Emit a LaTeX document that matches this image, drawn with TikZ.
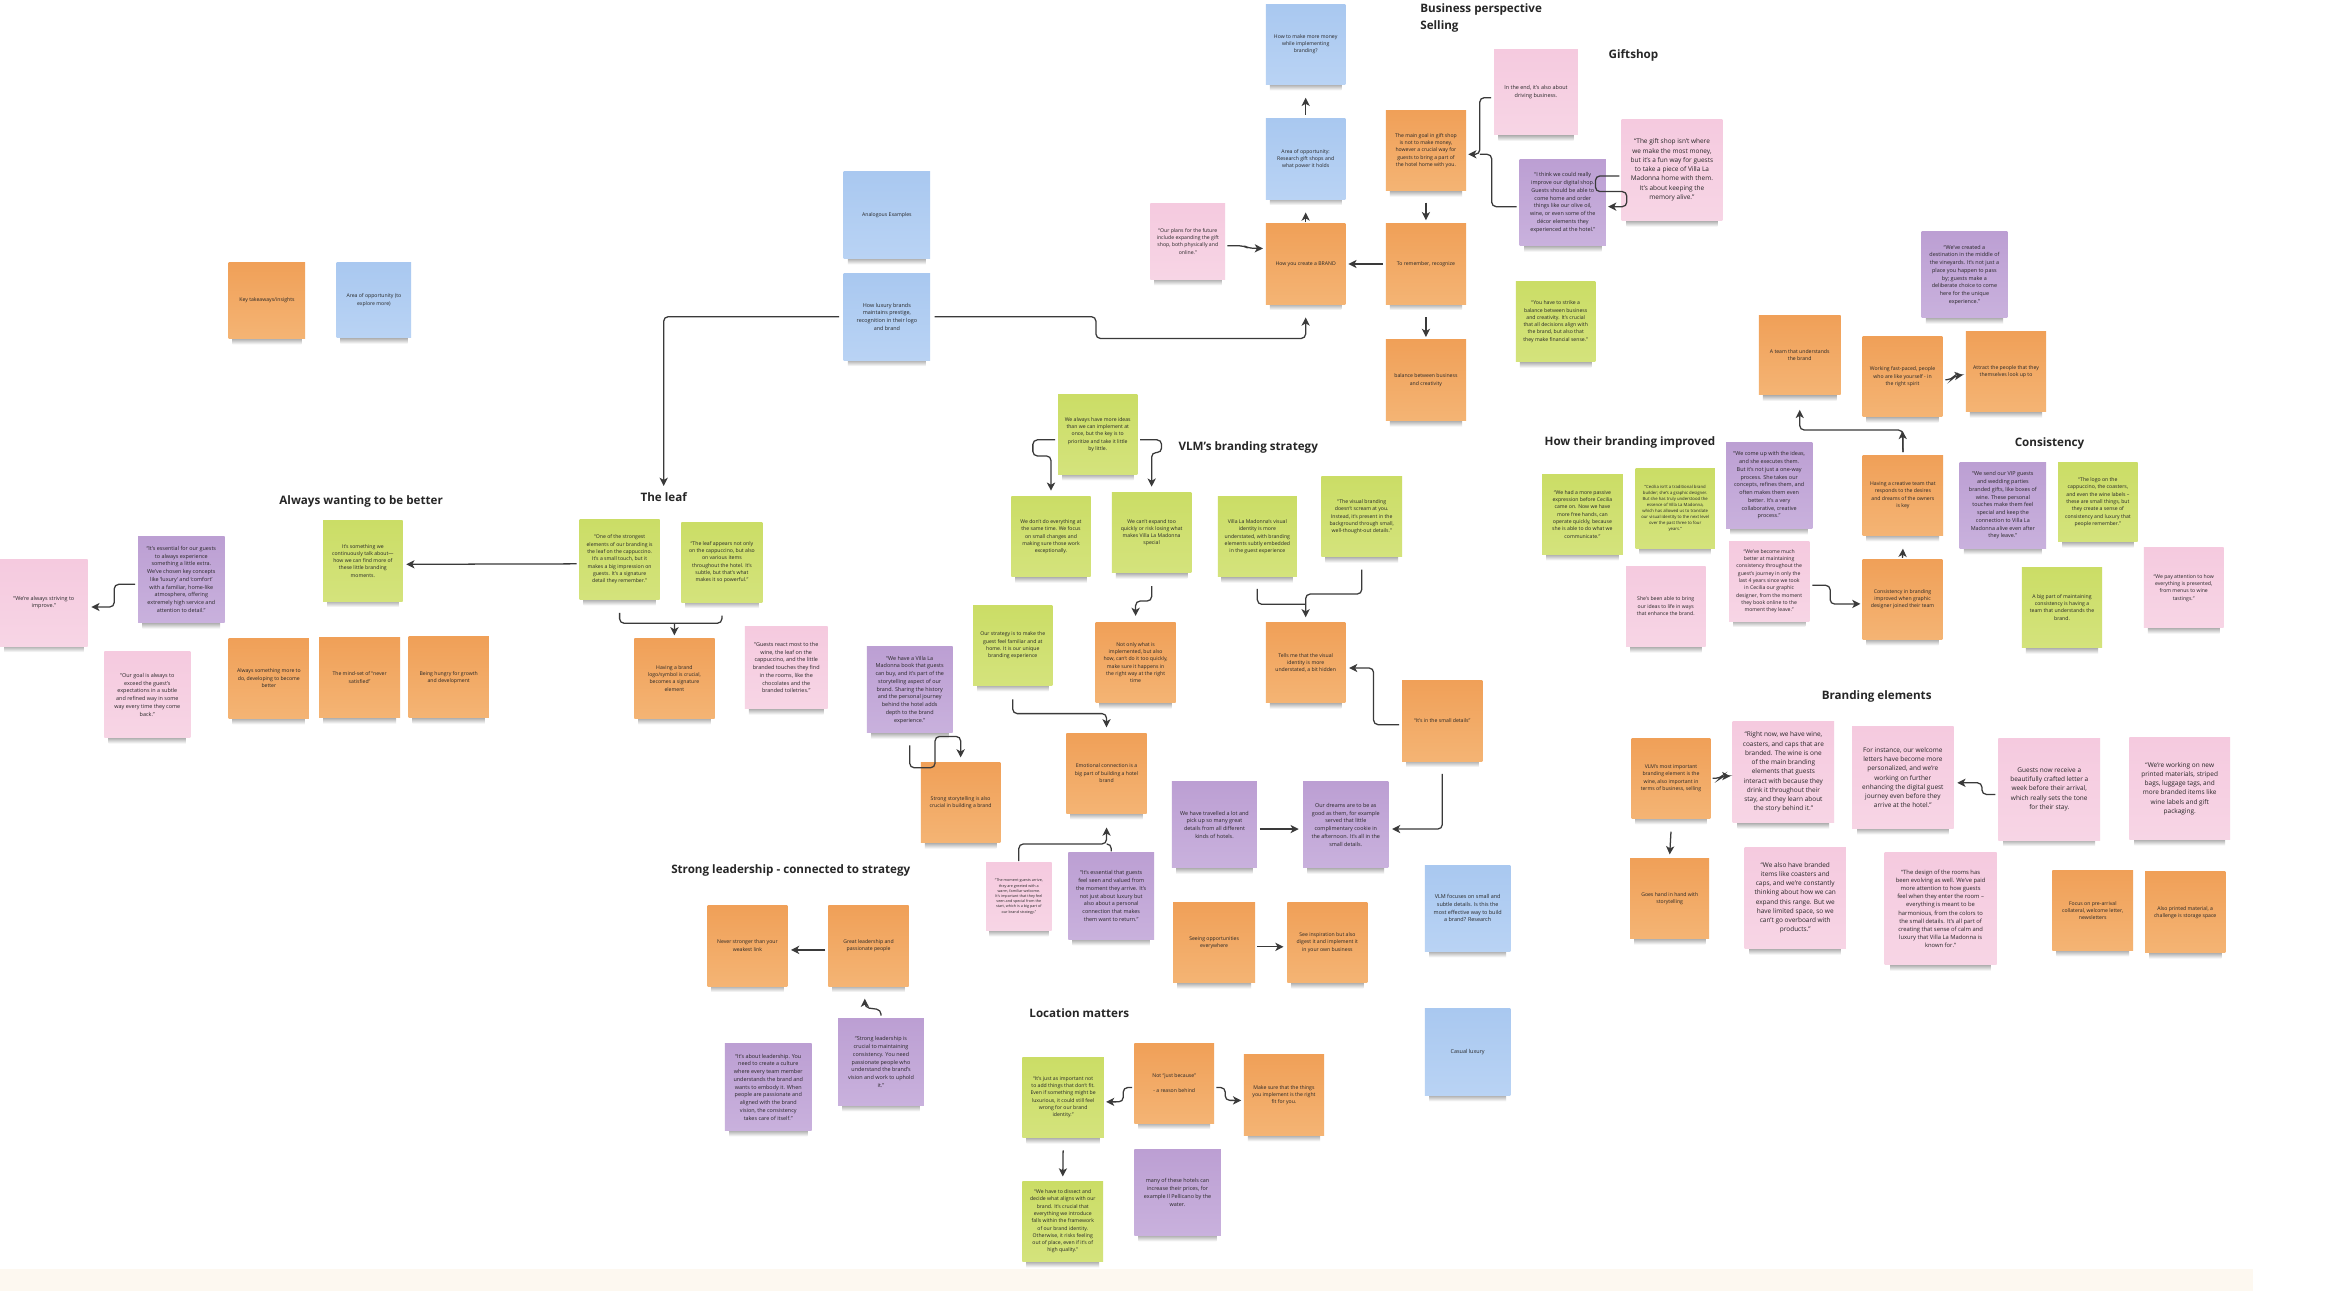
\documentclass[tikz,border=0pt]{standalone}
\usepackage{fontspec}
\setmainfont{Open Sans}
\usetikzlibrary{arrows.meta,backgrounds}

\definecolor{or1}{HTML}{F0A058}\definecolor{or2}{HTML}{F4B474}
\definecolor{bl1}{HTML}{A9C8F0}\definecolor{bl2}{HTML}{B9D3F4}
\definecolor{pk1}{HTML}{F5CADF}\definecolor{pk2}{HTML}{F7D5E5}
\definecolor{pu1}{HTML}{BC9FD3}\definecolor{pu2}{HTML}{C9B1DD}
\definecolor{gr1}{HTML}{CBDD66}\definecolor{gr2}{HTML}{D4E37C}
\definecolor{ink}{HTML}{262626}
\definecolor{linec}{HTML}{3A3A3A}
\definecolor{cream}{HTML}{FDF8F0}

\newcommand{\fsA}{\fontsize{3.45}{4.9}\selectfont}
\newcommand{\fsB}{\fontsize{3.65}{5.2}\selectfont}
\newcommand{\fsC}{\fontsize{4.35}{6.2}\selectfont}
\newcommand{\fsD}{\fontsize{3.9}{5.5}\selectfont}
\newcommand{\fsE}{\fontsize{2.85}{4.0}\selectfont}
\newcommand{\fsF}{\fontsize{2.5}{3.5}\selectfont}
\newcommand{\fsH}{\fontsize{7.8}{11.6}\selectfont\bfseries}

\tikzset{
  sticky/.style={rectangle, inner sep=0pt, outer sep=0pt, align=center, text=ink, anchor=north west},
  sor/.style={sticky, top color=or1, bottom color=or2, font=\fsA},
  sbl/.style={sticky, top color=bl1, bottom color=bl2, font=\fsA},
  spk/.style={sticky, top color=pk1, bottom color=pk2, font=\fsB},
  spu/.style={sticky, top color=pu1, bottom color=pu2, font=\fsB},
  sgr/.style={sticky, top color=gr1, bottom color=gr2, font=\fsA},
  hd/.style={anchor=west, inner sep=0pt, align=left, text=ink, font=\fsH},
  conn/.style={draw=linec, line width=0.85pt, rounded corners=3pt},
  arr/.style={conn, -{Stealth[length=5.5pt,width=5.5pt,inset=1.5pt]}}
}

% name, style, x, y (top-left), width, height, text
\newcommand{\sn}[7]{%
  \node[#2, minimum width=#5, minimum height=#6] (#1) at (#3,#4) {#7};%
  \begin{pgfonlayer}{background}%
    \shade[top color=black!45, bottom color=white] ([xshift={0.05*#5}, yshift=1.5pt]#1.south west) rectangle ([xshift={-0.05*#5}, yshift=-4pt]#1.south east);%
  \end{pgfonlayer}%
}

\begin{document}
\begin{tikzpicture}[x=1pt, y=-1pt]
\useasboundingbox (0,0) rectangle (1568,866);
\begin{pgfonlayer}{background}
  \fill[white] (0,0) rectangle (1568,866);
  \fill[cream] (0,851.3) rectangle (1568,866);
  \fill[white] (1511,851.3) rectangle (1568,866);
\end{pgfonlayer}

% ---------- headings ----------
\node[hd] (bizhd) at (952.4,12.1) {Business perspective\\Selling};
\node[hd] (gifthd) at (1078.7,37) {Giftshop};
\node[hd] (vlmhd) at (790.2,299.8) {VLM's branding strategy};
\node[hd] (improvhd) at (1035.7,296.9) {How their branding improved};
\node[hd] (conshd) at (1351,297.3) {Consistency};
\node[hd] (elemhd) at (1221.6,467.3) {Branding elements};
\node[hd] (betterhd) at (187.2,336) {Always wanting to be better};
\node[hd] (leafhd) at (429.4,333.1) {The leaf};
\node[hd] (leadhd) at (450,583.7) {Strong leadership - connected to strategy};
\node[hd] (lochd) at (690.2,679.8) {Location matters};

% ---------- notes ----------
\sn{key}{sor}{153.4}{176}{51.3}{51}{Key takeaways/insights}
\sn{areazero}{sbl}{225.7}{176}{50.1}{50.5}{Area of opportunity (to\\explore more)}
\sn{analog}{sbl}{565.8}{115.1}{58}{58.2}{Analogous Examples}
\sn{luxury}{sbl,font=\fsB}{565.8}{183.3}{58}{58.2}{How luxury brands\\maintains prestige,\\recognition in their logo\\and brand}
\sn{howmoney}{sbl}{849}{2.9}{53.3}{53.7}{How to make more money\\while implementing\\branding?}
\sn{areaop}{sbl}{849}{79.8}{53.3}{53.7}{Area of opportunity:\\Research gift shops and\\what power it holds}
\sn{brand}{sor}{849}{150.2}{53.3}{53.7}{How you create a BRAND}
\sn{maingoal}{sor}{929.4}{73.8}{53.8}{54.1}{The main goal in gift shop\\is not to make money,\\however a crucial way for\\guests to bring a part of\\the hotel home with you.}
\sn{remember}{sor}{929.4}{150.2}{53.8}{53.7}{To remember, recognize}
\sn{balance}{sor}{929.4}{228}{53.8}{54.1}{balance between business\\and creativity}
\sn{intheend}{spk}{1002}{33.5}{56.2}{57}{In the end, it's also about\\driving business.}
\sn{ithink}{spu}{1019.2}{106.9}{57.8}{57.9}{“I think we could really\\improve our digital shop.\\Guests should be able to\\come home and order\\things like our olive oil,\\wine, or even some of the\\décor elements they\\experienced at the hotel.”}
\sn{giftshop}{spk,font=\fsC}{1087.5}{80}{67.6}{68}{“The gift shop isn't where\\we make the most money,\\but it's a fun way for guests\\to take a piece of Villa La\\Madonna home with them.\\It's about keeping the\\memory alive.”}
\sn{strike}{sgr}{1016.7}{188.9}{53.3}{53.7}{“You have to strike a\\balance between business\\and creativity. It's crucial\\that all decisions align with\\the brand, but also that\\they make financial sense.”}
\sn{plans}{spk,font=\fsA}{771.5}{136.4}{50.2}{50.9}{“Our plans for the future\\include expanding the gift\\shop, both physically and\\online.”}
\sn{created}{spu}{1288.7}{155.4}{57.5}{57.7}{“We've created a\\destination in the middle of\\the vineyards. It's not just a\\place you happen to pass\\by; guests make a\\deliberate choice to come\\here for the unique\\experience.”}
\sn{team}{sor}{1179.6}{211.3}{54.8}{53.6}{A team that understands\\the brand}
\sn{working}{sor}{1249.2}{225.8}{53.5}{53.7}{Working fast-paced, people\\who are like yourself - in\\the right spirit}
\sn{attract}{sor}{1318.4}{222.4}{53.9}{53.7}{Attract the people that they\\themselves look up to}
\sn{having}{sor}{1249.2}{305.2}{54}{53.8}{Having a creative team that\\responds to the desires\\and dreams of the owners\\is key}
\sn{consbrand}{sor}{1249.2}{375.1}{53.5}{53.7}{Consistency in branding\\improved when graphic\\designer joined their team}
\sn{vip}{spu}{1314.2}{310.3}{58.1}{57.5}{“We send our VIP guests\\and wedding parties\\branded gifts, like boxes of\\wine. These personal\\touches make them feel\\special and keep the\\connection to Villa La\\Madonna alive even after\\they leave.”}
\sn{logo}{sgr}{1380.3}{310.3}{53.3}{53}{“The logo on the\\cappuccino, the coasters,\\and even the wine labels –\\these are small things, but\\they create a sense of\\consistency and luxury that\\people remember.”}
\sn{bigpart}{sgr}{1356}{380.3}{53.8}{54.1}{A big part of maintaining\\consistency is having a\\team that understands the\\brand.}
\sn{payatt}{spk,font=\fsA}{1437.8}{367.3}{53.4}{53.7}{“We pay attention to how\\everything is presented,\\from menus to wine\\tastings.”}
\sn{comeup}{spu}{1157.6}{296.9}{57.8}{57.5}{“We come up with the ideas,\\and she executes them.\\But it's not just a one-way\\process. She takes our\\concepts, refines them, and\\often makes them even\\better. It's a very\\collaborative, creative\\process.”}
\sn{becomebetter}{spk,font=\fsA}{1159.6}{362.9}{53.8}{53.6}{“We've become much\\better at maintaining\\consistency throughout the\\guest's journey in only the\\last 4 years since we took\\in Cecilia our graphic\\designer, from the moment\\they book online to the\\moment they leave.”}
\sn{rightnow}{spk,font=\fsC}{1162}{484}{68.1}{67.8}{“Right now, we have wine,\\coasters, and caps that are\\branded. The wine is one\\of the main branding\\elements that guests\\interact with because they\\drink it throughout their\\stay, and they learn about\\the story behind it.”}
\sn{forinst}{spk,font=\fsC}{1242.1}{487.4}{68.1}{68.2}{For instance, our welcome\\letters have become more\\personalized, and we're\\working on further\\enhancing the digital guest\\journey even before they\\arrive at the hotel.”}
\sn{guestsnow}{spk,font=\fsC}{1340.2}{495.2}{68.3}{68.2}{Guests now receive a\\beautifully crafted letter a\\week before their arrival,\\which really sets the tone\\for their stay.}
\sn{printed}{spk,font=\fsC}{1428.1}{494.8}{67.5}{68.2}{“We're working on new\\printed materials, striped\\bags, luggage tags, and\\more branded items like\\wine labels and gift\\packaging.}
\sn{villavis}{sgr}{816.7}{333.1}{53.1}{53.7}{Villa La Madonna's visual\\identity is more\\understated, with branding\\elements subtly embedded\\in the guest experience}
\sn{visualbr}{sgr}{886.1}{319.7}{54.3}{53.7}{“The visual branding\\doesn't scream at you.\\Instead, it's present in the\\background through small,\\well-thought-out details.”}
\sn{tellsme}{sor}{849}{417.6}{53.3}{53.7}{Tells me that the visual\\identity is more\\understated, a bit hidden}
\sn{smalldet}{sor}{940.4}{456.3}{53.8}{54.1}{“It's in the small details”}
\sn{travelled}{spu}{786}{524.3}{57}{57.7}{We have travelled a lot and\\pick up so many great\\details from all different\\kinds of hotels.}
\sn{dreams}{spu}{874}{524.3}{57.1}{57.7}{Our dreams are to be as\\good as them, for example\\served that little\\complimentary cookie in\\the afternoon. It's all in the\\small details.}
\sn{passive}{sgr}{1034.2}{318.1}{54.1}{53.7}{“We had a more passive\\expression before Cecilia\\came on. Now we have\\more free hands, can\\operate quickly, because\\she is able to do what we\\communicate.”}
\sn{cecilia}{sgr,font=\fsE}{1097}{314.3}{53}{53.5}{“Cecilia isn't a traditional brand\\builder; she's a graphic designer.\\But she has truly understood the\\essence of Villa La Madonna,\\which has allowed us to translate\\our visual identity to the next level\\over the past three to four\\years.”}
\sn{shesbeen}{spk,font=\fsA}{1090.5}{379.6}{53.3}{54.1}{She's been able to bring\\our ideas to life in ways\\that enhance the brand.}
\sn{vlmwine}{sor}{1094.3}{495.2}{52.7}{53.6}{VLM's most important\\branding element is the\\wine, also important in\\terms of business, selling}
\sn{handinhand}{sor}{1093.3}{575.8}{53}{53.7}{Goes hand in hand with\\storytelling}
\sn{wealso}{spk,font=\fsC}{1170}{568.1}{68}{68.2}{“We also have branded\\items like coasters and\\caps, and we're constantly\\thinking about how we can\\expand this range. But we\\have limited space, so we\\can't go overboard with\\products.”}
\sn{design}{spk,font=\fsD}{1263.9}{571.9}{75.1}{75.1}{“The design of the rooms has\\been evolving as well. We've paid\\more attention to how guests\\feel when they enter the room –\\everything is meant to be\\harmonious, from the colors to\\the small details. It's all part of\\creating that sense of calm and\\luxury that Villa La Madonna is\\known for.”}
\sn{focus}{sor}{1376.5}{583.7}{54.1}{53.7}{Focus on pre-arrival\\collateral, welcome letter,\\newsletters}
\sn{alsoprinted}{sor}{1438.6}{584.8}{53.8}{54.1}{Also printed material, a\\challenge is storage space}
\sn{seeing}{sor}{786.7}{605.4}{55.1}{53.6}{Seeing opportunities\\everywhere}
\sn{seeinsp}{sor}{863.3}{605.4}{53.8}{53.6}{See inspiration but also\\digest it and implement it\\in your own business}
\sn{vlmfocus}{sbl,font=\fsB}{955.6}{580.3}{57.4}{57.7}{VLM focuses on small and\\subtle details. Is this the\\most effective way to build\\a brand? Research}
\sn{casual}{sbl,font=\fsB}{955.6}{676.5}{57.4}{58.1}{Casual luxury}
\sn{notjust}{sor}{760.8}{699.5}{53.4}{53.7}{Not “just because”\\[4.9pt]- a reason behind}
\sn{makesure}{sor}{834.2}{707.3}{53.8}{54.1}{Make sure that the things\\you implement is the right\\fit for you.}
\sn{manyof}{spu}{760.8}{770.8}{57.9}{57.7}{many of these hotels can\\increase their prices, for\\example Il Pellicano by the\\water.}
\sn{never}{sor}{474.5}{607.2}{53.5}{54.1}{Never stronger than your\\weakest link}
\sn{great}{sor}{555.6}{607.2}{53.8}{54.1}{Great leadership and\\passionate people}
\sn{strongldr}{spu}{562.1}{683.2}{57.5}{58.1}{“Strong leadership is\\crucial to maintaining\\consistency. You need\\passionate people who\\understand the brand's\\vision and work to uphold\\it.”}
\sn{aboutldr}{spu}{486.2}{700}{58.1}{58.1}{“It's about leadership. You\\need to create a culture\\where every team member\\understands the brand and\\wants to embody it. When\\people are passionate and\\aligned with the brand\\vision, the consistency\\takes care of itself.”}
\sn{justasimp}{sgr}{685.7}{708.9}{54.6}{54.1}{“It's just as important not\\to add things that don't fit.\\Even if something might be\\luxurious, it could still feel\\wrong for our brand\\identity.”}
\sn{dissect}{sgr}{685.7}{792.3}{54.1}{53.7}{“We have to dissect and\\decide what aligns with our\\brand. It's crucial that\\everything we introduce\\falls within the framework\\of our brand identity.\\Otherwise, it risks feeling\\out of place, even if it's of\\high quality.”}
\sn{moment}{spk,font=\fsF}{661.4}{578.5}{43.8}{45.5}{“The moment guests arrive,\\they are greeted with a\\warm, familiar welcome.\\It's important that they feel\\seen and special from the\\start, which is a big part of\\our brand strategy.”}
\sn{seenvalued}{spu}{716.5}{571.9}{57.5}{58.1}{“It's essential that guests\\feel seen and valued from\\the moment they arrive. It's\\not just about luxury but\\also about a personal\\connection that makes\\them want to return.”}
\sn{strongest}{sgr}{388.7}{348.3}{53.7}{53.7}{“One of the strongest\\elements of our branding is\\the leaf on the cappuccino.\\It's a small touch, but it\\makes a big impression on\\guests. It's a signature\\detail they remember.”}
\sn{leafapp}{sgr}{457}{350.1}{54.3}{53.7}{“The leaf appears not only\\on the cappuccino, but also\\on various items\\throughout the hotel. It's\\subtle, but that's what\\makes it so powerful.”}
\sn{brandlogo}{sor}{425.4}{428.1}{53.8}{53.7}{Having a brand\\logo/symbol is crucial,\\becomes a signature\\element}
\sn{reactmost}{spk}{499.5}{420.3}{55.6}{55}{“Guests react most to the\\wine, the leaf on the\\cappuccino, and the little\\branded touches they find\\in the rooms, like the\\chocolates and the\\branded toiletries.”}
\sn{book}{spu}{581.3}{433.7}{57.6}{57.7}{“We have a Villa La\\Madonna book that guests\\can buy, and it's part of the\\storytelling aspect of our\\brand. Sharing the history\\and the personal journey\\behind the hotel adds\\depth to the brand\\experience.”}
\sn{storytell}{sor}{617.6}{511.5}{53.3}{53.7}{Strong storytelling is also\\crucial in building a brand}
\sn{ourstrat}{sgr}{652.7}{406}{53}{53.6}{Our strategy is to make the\\guest feel familiar and at\\home. It is our unique\\branding experience}
\sn{emotional}{sor}{715.2}{491.8}{53.8}{53.7}{Emotional connection is a\\big part of building a hotel\\brand}
\sn{dontdo}{sgr}{678.2}{333.1}{53.3}{53.7}{We don't do everything at\\the same time. We focus\\on small changes and\\making sure those work\\exceptionally.}
\sn{cantexp}{sgr}{745.7}{330.4}{53.3}{53.7}{We can't expand too\\quickly or risk losing what\\makes Villa La Madonna\\special}
\sn{notonly}{sor}{734.7}{417.6}{53.8}{53.7}{Not only what is\\implemented, but also\\how, can't do it too quickly,\\make sure it happens in\\the right way at the right\\time}
\sn{alwaysideas}{sgr}{709.7}{264.9}{53}{53.2}{We always have more ideas\\than we can implement at\\once, but the key is to\\prioritize and take it little\\by little.}
\sn{talkabout}{sgr}{216.7}{349}{53.3}{54.1}{It's something we\\continuously talk about—\\how we can find more of\\these little branding\\moments.}
\sn{essential}{spu}{92.6}{359.5}{58}{58.1}{“It's essential for our guests\\to always experience\\something a little extra.\\We've chosen key concepts\\like ‘luxury’ and ‘comfort’\\with a familiar, home-like\\atmosphere, offering\\extremely high service and\\attention to detail.”}
\sn{striving}{spk}{0}{375.1}{58.8}{58.2}{“We're always striving to\\improve.”}
\sn{goalexceed}{spk}{70}{437.1}{57.6}{57.6}{“Our goal is always to\\exceed the guest's\\expectations in a subtle\\and refined way in some\\way every time they come\\back.”}
\sn{somemore}{sor}{153.4}{428.1}{53.8}{53.7}{Always something more to\\do, developing to become\\better}
\sn{mindset}{sor}{214}{427.7}{54.3}{53.6}{The mind-set of “never\\satisfied”}
\sn{hungry}{sor}{274}{427.2}{53.8}{54.1}{Being hungry for growth\\and development}

% ---------- connectors ----------
\coordinate (leafj) at (452.3,418);
\draw[arr] ([xshift=-3pt]luxury.west) -| ([yshift=4pt]leafhd.north);
\draw[arr] ([xshift=3pt]luxury.east) -- (735,212.4) -- (735,227) -| ([yshift=-9pt]brand.south);
\draw[arr] ([yshift=3pt]areaop.north) -- ([yshift=-9pt]howmoney.south);
\draw[arr] ([yshift=1pt]brand.north) -- ([yshift=-9pt]areaop.south);
\draw[arr] ([yshift=-8pt]maingoal.south) -- ([yshift=2.5pt]remember.north);
\draw[arr] ([xshift=-2pt]remember.west) -- ([xshift=2pt]brand.east);
\draw[arr] ([yshift=-9pt]remember.south) -- ([yshift=2pt]balance.north);
\draw[arr] ([xshift=-2pt,yshift=-3.5pt]intheend.west) -- (992.4,65.5) |- ([xshift=1.5pt,yshift=-2.65pt]maingoal.east);
\draw[conn] ([xshift=-2pt,yshift=-2.75pt]ithink.west) -- (1000.4,138.6) -- (1000.4,103.5) -- (992.4,103.5);
\draw[arr] ([xshift=-1.5pt,yshift=-4pt]giftshop.west) -- (1070,118) -- (1070,128.5) -- (1091,128.5) -- (1091,138.6) -- ([xshift=1.5pt,yshift=-2.75pt]ithink.east);
\draw[arr] ([xshift=1.5pt,yshift=-3pt]plans.east) -- ++(11,0) -- ++(3,1.6) -- ([xshift=-2pt,yshift=10.4pt]brand.west);

\draw[conn] ([yshift=-9pt]strongest.south) -- ++(0,7) -| ([yshift=-9pt]leafapp.south);
\draw[arr] (leafj) -- ([yshift=2pt]brandlogo.north);
\draw[arr] ([xshift=-2pt,yshift=-3pt]strongest.west) -- ([xshift=2.5pt,yshift=-2.4pt]talkabout.east);
\draw[arr] ([xshift=-2pt,yshift=-3.35pt]essential.west) -- ++(-14,0) -- ++(0,15.2) -- ([xshift=2.5pt,yshift=-2.9pt]striving.east);

\draw[arr] ([xshift=-2pt,yshift=-3.5pt]alwaysideas.west) -- (692.7,295) -- (692.7,305.8) -| ([yshift=4pt]dontdo.north);
\draw[arr] ([xshift=2pt,yshift=-3.5pt]alwaysideas.east) -- (779,295) -- (779,303.5) -| ([yshift=4pt]cantexp.north);
\draw[arr] ([yshift=-9pt]cantexp.south) -- ++(0,10) -| ([yshift=4.5pt]notonly.north);
\draw[arr] ([yshift=-9.5pt]ourstrat.south) -- ++(0,9.5) -| ([yshift=4pt]emotional.north);
\draw[arr] ([yshift=-8.5pt]book.south) -- ++(0,15) -- ++(17,0) -- ++(0,-21) -| ([yshift=3.5pt]storytell.north);
\draw[arr] ([yshift=1pt]moment.north) -- (683.3,566) -| ([yshift=-9.5pt]emotional.south);
\draw[conn] ([yshift=1pt]seenvalued.north) -- (745.25,566) -- (742.1,566);

\draw[conn] ([yshift=-8.2pt]villavis.south) -- (843.25,405.3) -- (875.65,405.3);
\draw[arr] ([yshift=-8.6pt]visualbr.south) -- (913.25,398.4) -- (875.65,398.4) -- ([yshift=3.6pt]tellsme.north);
\draw[arr] ([xshift=-2pt,yshift=-2.65pt]smalldet.west) -- (921.2,486) |- ([xshift=2.5pt,yshift=-3.55pt]tellsme.east);
\draw[arr] ([yshift=-8.6pt]smalldet.south) |- ([xshift=2.5pt,yshift=-2.85pt]dreams.east);
\draw[arr] ([xshift=2pt,yshift=-2.85pt]travelled.east) -- ([xshift=-3pt,yshift=-2.85pt]dreams.west);

\draw[arr] ([xshift=1.5pt,yshift=-2.8pt]seeing.east) -- ([xshift=-2.5pt,yshift=-2.8pt]seeinsp.west);
\draw[arr] ([xshift=-2pt,yshift=-2.8pt]great.west) -- ([xshift=2.5pt,yshift=-2.8pt]never.east);
\draw[arr] ([yshift=2pt]strongldr.north) -- ++(0,-4) -- ++(-10.85,-1.5) -- ([xshift=-2.5pt,yshift=-8.5pt]great.south);
\draw[arr] ([xshift=-1.5pt,yshift=-3pt]notjust.west) -- ++(-6,0) -- ++(0,9.6) -- ([xshift=1.5pt,yshift=-3.05pt]justasimp.east);
\draw[arr] ([yshift=-8.5pt]justasimp.south) -- ([yshift=3.3pt]dissect.north);
\draw[arr] ([xshift=1.5pt,yshift=-3pt]notjust.east) -- ++(6,0) -- ++(0,8.6) -- ([xshift=-1.8pt,yshift=-3.65pt]makesure.west);

\draw[arr] ([xshift=1.5pt]vlmwine.east) -- ++(5,0) -- ++(1.5,-1.5) -- ([xshift=-1.5pt,yshift=-2.6pt]rightnow.west);
\draw[arr] ([yshift=-9pt]vlmwine.south) -- ([yshift=2.8pt]handinhand.north);
\draw[arr] ([xshift=-2pt,yshift=-3.5pt]guestsnow.west) -- ++(-9,0) -- ++(0,-7.8) -- ([xshift=2.5pt,yshift=-3.5pt]forinst.east);
\draw[arr] ([xshift=2pt,yshift=-2.85pt]becomebetter.east) -- ++(12,0) -- ++(0,12.6) -- ([xshift=-1.5pt,yshift=-3.05pt]consbrand.west);
\draw[arr] ([yshift=1pt]consbrand.north) -- ([yshift=-9pt]having.south);
\draw[arr] ([yshift=2pt]having.north) -- ([yshift=-9.5pt]working.south);
\draw[arr] ([yshift=2pt]having.north) -- (1276.2,288.4) -| ([yshift=-10pt]team.south);
\draw[arr] ([xshift=2pt,yshift=-2pt]working.east) -- ++(4,0) -- ++(2,-2.5) -- ([xshift=-2pt,yshift=-2.2pt]attract.west);
\end{tikzpicture}
\end{document}
